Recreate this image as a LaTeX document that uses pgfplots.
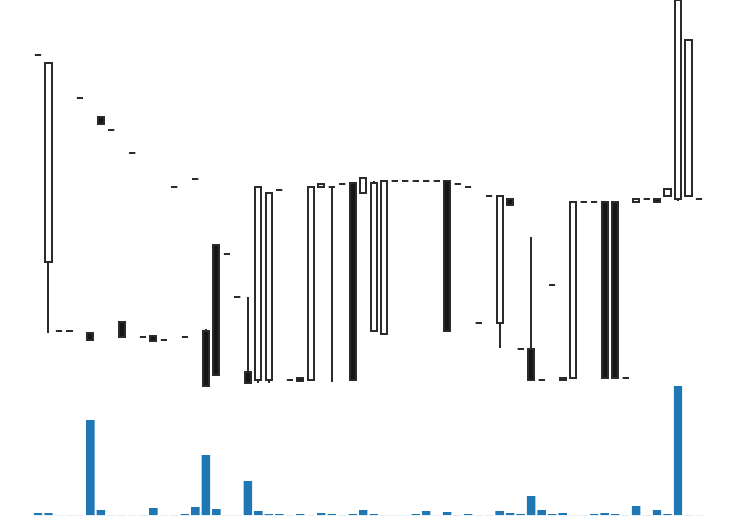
\documentclass[border=0pt]{standalone}
\usepackage{pgfplots}
\pgfplotsset{compat=1.18}
\usepackage{pgfplotstable}
\usepgfplotslibrary{statistics}
\definecolor{volblue}{HTML}{1F77B4}
\definecolor{edge}{HTML}{2B2B2B}
\definecolor{bodyfill}{HTML}{161616}
% i: candle index; low/high: wick ends; bot/top: body ends; up=1 hollow (rising), 0 filled (falling); vol: volume
\pgfplotstableread{
i   low    bot    top    high   up vol
0   331.3  331.3  331.3  331.3  1  2
1   52.7   124.3  323.3  323.3  1  2
2   55.3   55.3   55.3   55.3   1  0
3   55     55     55     55     1  0
4   288.3  288.3  288.3  288.3  1  0
5   46     46     52.7   52.7   0  95
6   262    262    268.7  268.7  0  5
7   256    256    256    256    1  0
8   48.7   48.7   63.7   63.7   0  0
9   233.3  233.3  233.3  233.3  1  0
10  49.3   49.3   49.3   49.3   1  0
11  45.3   45.3   49.7   49.7   0  7
12  46     46     46     46     1  0
13  199.3  199.3  199.3  199.3  1  0
14  49.3   49.3   49.3   49.3   1  1
15  205.5  207.3  207.3  207.3  1  8
16  0.5    0.5    55.3   57     0  60
17  10.7   10.7   141.3  141.3  0  6
18  132    132    132    132    1  0
19  89.3   89.3   89.3   89.3   1  0
20  2.7    2.7    14.3   89.3   0  34
21  3.3    6      199.3  199.3  1  4
22  3.3    6      193.3  193.3  1  1
23  196    196    196    196    1  1
24  6      6      6      6      1  0
25  5.3    5.3    8.3    8.3    0  1
26  6      6      199.3  199.3  1  0
27  198.7  198.7  202    202    1  2
28  3.7    199.3  199.3  199.3  1  1
29  202    202    202    202    1  0
30  6      6      202.5  202.5  0  1
31  192.7  192.7  207.7  207.7  1  5
32  55     55     202.7  205    1  1
33  52     52     205.3  205.3  1  0
34  205.3  205.3  205.3  205.3  1  0
35  205.3  205.3  205.3  205.3  1  0
36  205.3  205.3  205.3  205.3  1  1
37  205.3  205.3  205.3  205.3  1  4
38  205.3  205.3  205.3  205.3  1  0
39  55     55     205.3  205.3  0  3
40  202    202    202    202    1  0
41  199.3  199.3  199.3  199.3  1  1
42  63.3   63.3   63.3   63.3   1  0
43  190.3  190.3  190.3  190.3  1  0
44  37.7   63.3   190.3  190.3  1  4
45  181    181    187    187    0  2
46  37     37     37     37     1  1
47  6      6      37     149.3  0  19
48  6      6      6      6      1  5
49  101    101    101    101    1  1
50  6      6      8.3    8.3    0  2
51  7.7    7.7    184.3  184.3  1  0
52  184    184    184    184    1  0
53  184    184    184    184    1  1
54  7.7    7.7    184    184    0  2
55  7.7    7.7    184    184    0  1
56  8      8      8      8      1  0
57  184    184    187.3  187.3  1  9
58  187    187    187    187    1  0
59  184    184    187    187    0  5
60  190    190    196.7  196.7  1  1
61  184.7  186.7  385.5  385.5  1  129
62  190    190    346    346    1  0
63  187.3  187.3  187.3  187.3  1  0
}\candles
\begin{document}
\begin{tikzpicture}
\useasboundingbox (0,0) rectangle (737pt,515pt);
\begin{axis}[at={(0pt,129pt)}, anchor=south west, width=737pt, height=386pt,
  scale only axis, xmin=-3.62, xmax=66.62, ymin=0, ymax=386, hide axis, clip=false,
  boxplot/draw direction=y]
\pgfplotsinvokeforeach{0,...,63}{
  \pgfplotstablegetelem{#1}{low}\of\candles \let\vlo\pgfplotsretval
  \pgfplotstablegetelem{#1}{bot}\of\candles \let\vbo\pgfplotsretval
  \pgfplotstablegetelem{#1}{top}\of\candles \let\vtp\pgfplotsretval
  \pgfplotstablegetelem{#1}{high}\of\candles \let\vhi\pgfplotsretval
  \pgfplotstablegetelem{#1}{up}\of\candles
  \ifnum\pgfplotsretval=1 \def\vfill{white}\else\def\vfill{bodyfill}\fi
  \edef\doplot{\noexpand\addplot[draw=edge, fill=\vfill, mark=none,
      boxplot/draw direction=y, boxplot/box extend=0.58, boxplot/whisker extend=0,
      boxplot/every box/.style={draw=edge, line width=2pt},
      boxplot/every whisker/.style={draw=edge, line width=2pt},
      boxplot/every median/.style={draw=edge, line width=2pt},
      boxplot prepared={draw position=#1, lower whisker=\vlo,
        lower quartile=\vbo, median=\vbo, upper quartile=\vtp, upper whisker=\vhi}] coordinates {};}
  \doplot
}
\end{axis}
\begin{axis}[at={(0pt,0pt)}, anchor=south west, width=737pt, height=129pt,
  scale only axis, xmin=-3.62, xmax=66.62, ymin=0, ymax=129, hide axis]
\addplot[ybar, bar width=0.8, fill=volblue, draw=none] table[x=i, y=vol]{\candles};
\end{axis}
\end{tikzpicture}
\end{document}
